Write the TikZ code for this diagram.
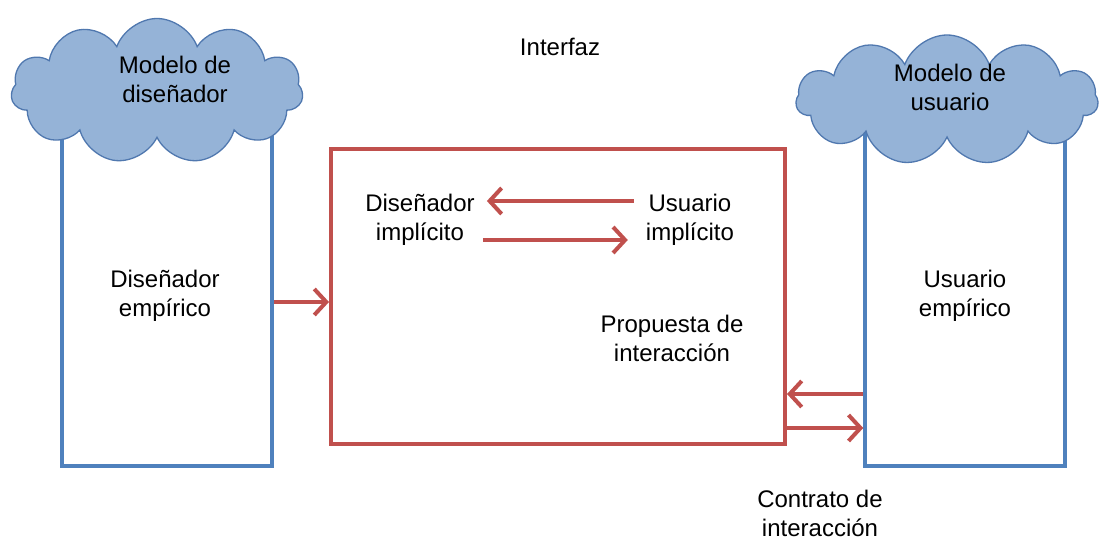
\documentclass[tikz,border=0pt]{standalone}
\usepackage{fontspec}
\setmainfont{Liberation Sans}
\usetikzlibrary{shapes.symbols,arrows.meta}
\definecolor{cloudfill}{RGB}{149,179,215}
\definecolor{cloudline}{RGB}{80,120,175}
\definecolor{boxblue}{RGB}{79,129,189}
\definecolor{boxred}{RGB}{192,80,77}
\tikzset{
  txt/.style={font=\fontsize{24}{29}\selectfont, align=center, text=black, inner sep=0pt},
  bluebox/.style={draw=boxblue, line width=3.5pt, fill=white, inner sep=0pt},
  redbox/.style={draw=boxred, line width=4pt, inner sep=0pt},
  cloudy/.style={cloud, cloud puffs=11, cloud puff arc=140, cloud ignores aspect, fill=cloudfill, draw=cloudline, line width=1.3pt, inner sep=0pt},
  arr/.style={draw=boxred, line width=4pt, -{Straight Barb[length=12pt,width=26pt,line width=4pt]}},
}
\begin{document}
\begin{tikzpicture}[x=1pt,y=-1pt]
\useasboundingbox (0,0) rectangle (1106,540);
% boxes
\node[bluebox, minimum width=210pt, minimum height=336pt] (des) at (167,298) {};
\node[bluebox, minimum width=200pt, minimum height=336pt] (usu) at (965,298) {};
\node[redbox, minimum width=454pt, minimum height=295pt] (prop) at (558,296.5) {};
% clouds
\node[cloudy, minimum width=292pt, minimum height=145pt] (cl1) at (157,91) {};
\node[cloudy, minimum width=302pt, minimum height=130pt] (cl2) at (947,100) {};
% texts
\node[txt] (t1) at (175,79) {Modelo de\\diseñador};
\node[txt] (t2) at (950,87) {Modelo de\\usuario};
\node[txt] (interfaz) at (560,47) {Interfaz};
\node[txt] (de) at (165,296) {Diseñador\\empírico};
\node[txt] (ue) at (965,296) {Usuario\\empírico};
\node[txt] (di) at (420,220) {Diseñador\\implícito};
\node[txt] (ui) at (690,220) {Usuario\\implícito};
\node[txt] (pi) at (672,338) {Propuesta de\\interacción};
\node[txt] (ci) at (820,513) {Contrato de\\interacción};
% arrows
\draw[arr] (des.east |- 0,302) -- (prop.west |- 0,302);
\draw[arr] ([xshift=-12pt]ui.west |- 0,201) -- ([xshift=12pt]di.east |- 0,201);
\draw[arr] ([xshift=8pt]di.east |- 0,240) -- ([xshift=-18pt]ui.west |- 0,240);
\draw[arr] (usu.west |- 0,394) -- (prop.east |- 0,394);
\draw[arr] (prop.east |- 0,428) -- (usu.west |- 0,428);
\end{tikzpicture}
\end{document}
